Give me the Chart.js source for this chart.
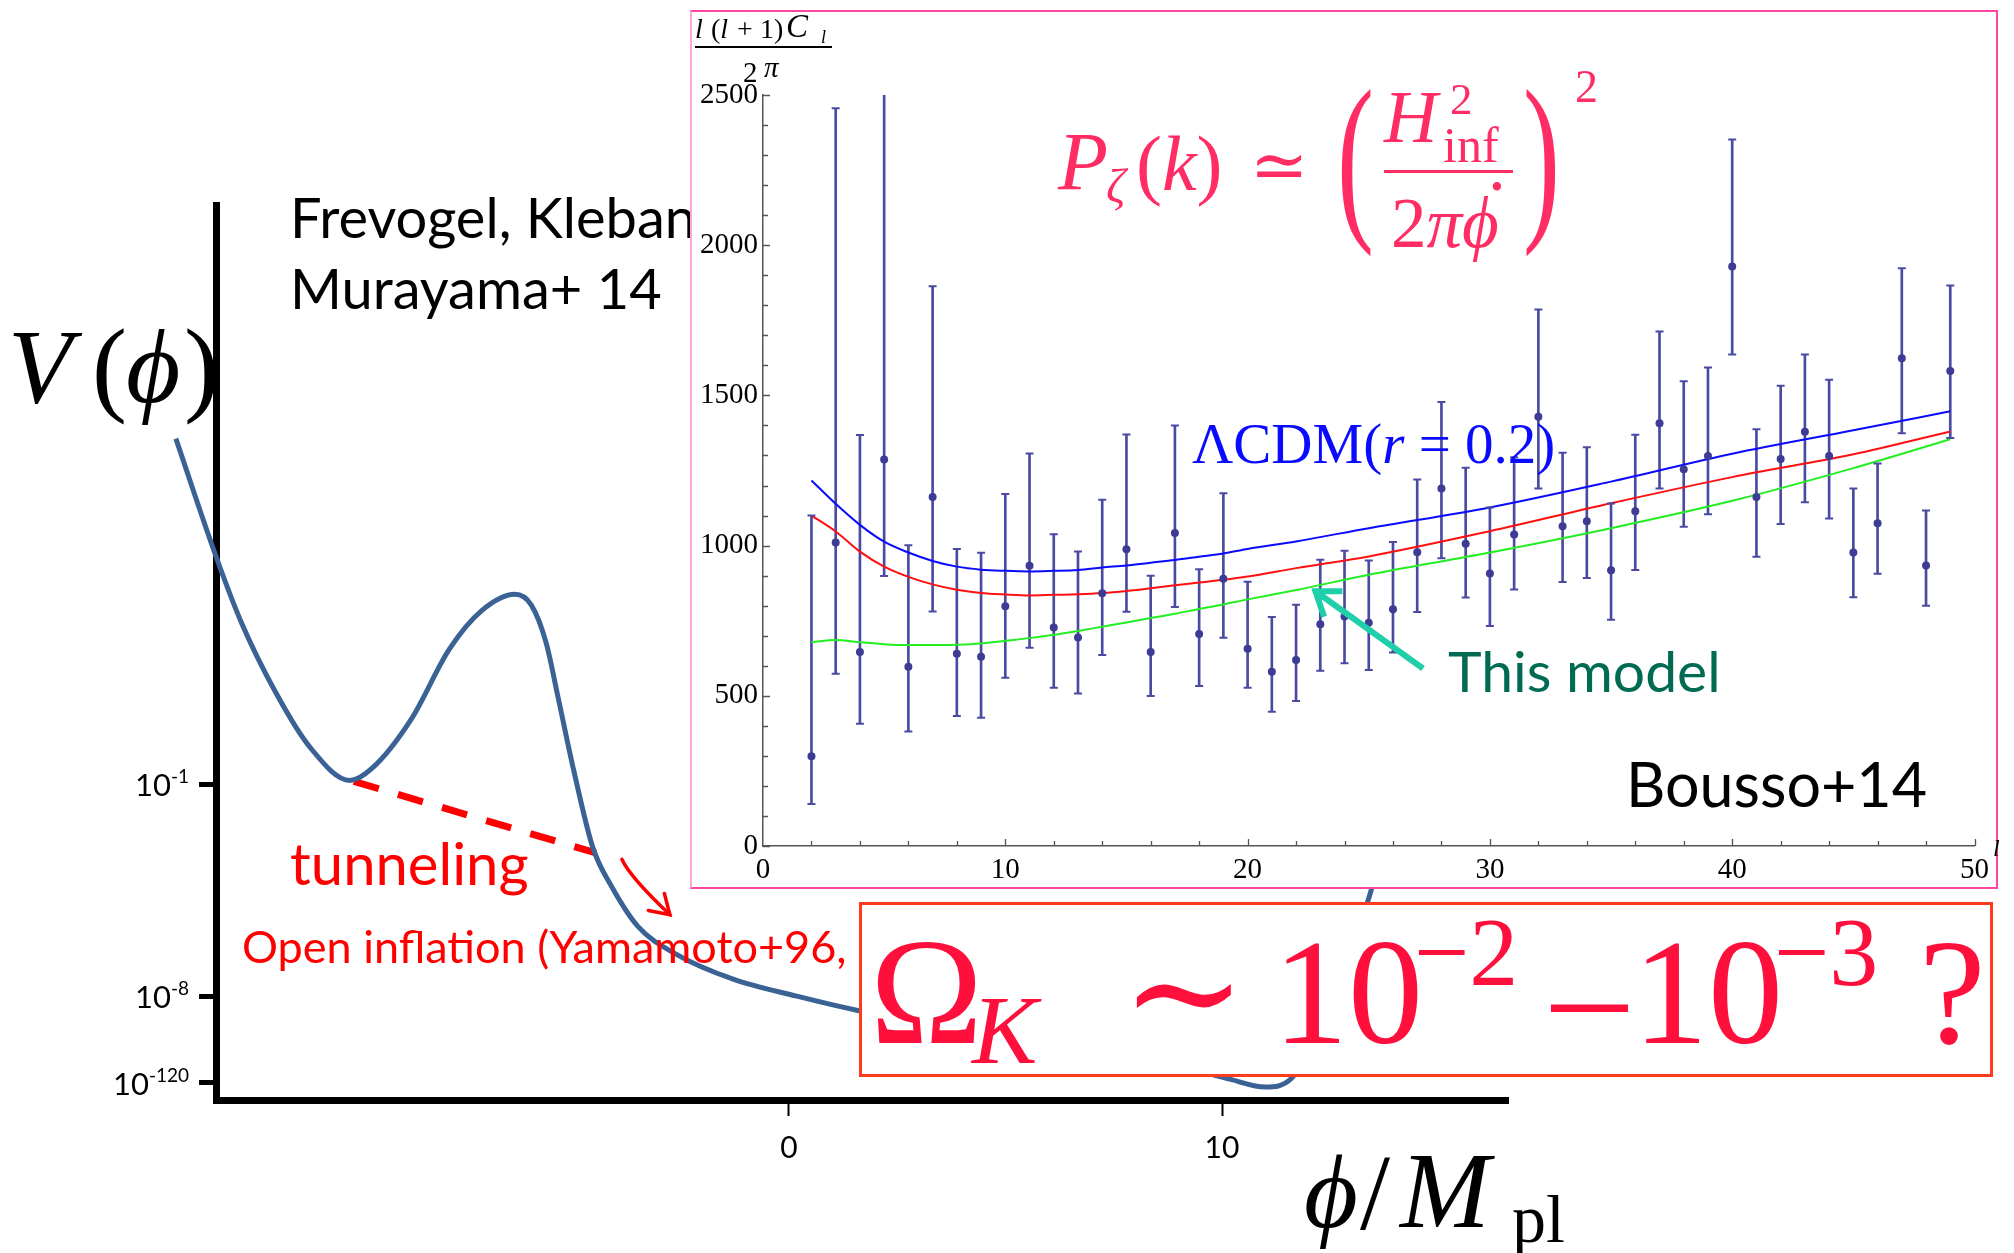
<!DOCTYPE html>
<html>
<head>
<meta charset="utf-8">
<script src="https://cdn.jsdelivr.net/npm/chart.js@4.4.1/dist/chart.umd.min.js"></script>
<style>
  html, body { margin: 0; padding: 0; background: #fff; }
  #page { position: relative; width: 2014px; height: 1253px; overflow: hidden; background: #fff; }
  #potWrap { position: absolute; left: 0; top: 0; width: 2014px; height: 1253px; }
  #insetWrap { position: absolute; left: 690px; top: 10px; width: 1308px; height: 879px; box-sizing: border-box;
               border: 2px solid #ff45a2; border-left-color: #ffa6d4; background: #fff; }
  #omegaBox { position: absolute; left: 859px; top: 902px; width: 1134px; height: 175px; box-sizing: border-box;
              border: 3px solid #ff3b1f; background: #fff; }
  .t { position: absolute; white-space: nowrap; line-height: 1; }
</style>
</head>
<body>
<div id="page">
  <div id="potWrap"><canvas id="potChart"></canvas></div>
  <div id="insetWrap"><canvas id="insetChart"></canvas></div>
  <div id="omegaBox"></div>
</div>
<script>
// ---- big background plot: schematic potential V(phi)
// vertical units are schematic: 0 = axis line, 100 = top of the frame
const phiMin = -13.233, phiMax = 16.605;
const phiVals = [-14.16, -13.23, -12.66, -11.85, -11.06, -10.14, -9.62, -8.73, -7.84, -7.09, -6.33, -5.95, -5.61, -5.32, -4.97,
                 -4.53, -4.09, -3.49, -2.61, -1.29, 0.18, 1.59, 4.0, 7.0, 9.0, 10.2, 11.0, 11.6, 12.4, 13.4, 13.8];
const potVals = [73.9, 60.7, 53.5, 45.5, 39.4, 35.7, 37.1, 42.5, 50.4, 54.7, 56.5, 55.3, 51.1, 44.7, 36.8,
                 28.2, 23.8, 19.4, 16.3, 13.5, 11.6, 10.0, 7.8, 5.5, 3.8, 2.3, 1.45, 2.4, 9.0, 22.7, 30.0];
const tunnelPhi = [-10.05, -4.46];
const tunnelV = [35.6, 27.6];
const arrowPhi = [-3.86, -3.67, -2.75];   // start, control, tip
const arrowV = [26.9, 24.9, 20.7];
const potXTicks = [0, 10];
const potYTicks = [1.9, 11.6, 35.3];
const potYExp = ['-120', '-8', '-1'];

// ---- inset: l(l+1)C_l/2pi
const ellPts = [2, 3, 4, 5, 6, 7, 8, 9, 10, 11, 12, 13, 14, 15, 16, 17, 18, 19, 20, 21, 22, 23, 24, 25,
                26, 27, 28, 29, 30, 31, 32, 33, 34, 35, 36, 37, 38, 39, 40, 41, 42, 43, 44, 45, 46, 47, 48, 49];
const clVals = [299, 1010, 646, 1287, 597, 1162, 640, 630, 798, 933, 727, 694, 841, 988, 646, 1042, 706, 890, 657, 580, 619, 738, 764, 743,
                788, 978, 1190, 1006, 907, 1037, 1429, 1064, 1081, 918, 1114, 1407, 1254, 1298, 1929, 1162, 1288, 1379, 1298, 977, 1074, 1624, 934, 1581];
const clLow = [140, 573, 407, 899, 381, 781, 433, 427, 560, 660, 527, 508, 636, 780, 499, 796, 533, 693, 527, 447, 483, 583, 608, 586,
               644, 779, 958, 827, 732, 854, 1190, 879, 892, 753, 919, 1190, 1063, 1104, 1636, 963, 1072, 1144, 1090, 828, 906, 1374, 800, 1358];
const clHigh = [1100, 2456, 1368, 2700, 1001, 1863, 989, 976, 1172, 1307, 1038, 980, 1153, 1370, 900, 1400, 921, 1174, 880, 762, 803, 953, 983, 950,
                1012, 1220, 1478, 1259, 1127, 1294, 1786, 1309, 1327, 1140, 1369, 1713, 1547, 1593, 2352, 1387, 1532, 1636, 1552, 1190, 1273, 1923, 1117, 1866];
const curveL = [2, 3, 4, 5, 6, 7, 8, 9, 10, 11, 12, 13, 14, 15, 16, 17, 18, 19, 20, 22, 25, 30, 35, 40, 45, 49];
const lcdmVals = [1217, 1139, 1069, 1013, 977, 949, 930, 920, 916, 914, 916, 919, 927, 934, 943, 952, 963, 974, 989, 1014, 1058, 1127, 1213, 1306, 1384, 1447];
const redVals = [1100, 1047, 980, 930, 896, 871, 853, 842, 837, 834, 836, 838, 842, 849, 858, 868, 877, 886, 897, 925, 964, 1048, 1141, 1228, 1304, 1380];
const modelVals = [679, 686, 678, 672, 669, 669, 670, 674, 683, 692, 703, 716, 730, 744, 759, 773, 789, 804, 821, 852, 903, 977, 1058, 1149, 1258, 1354];
const tealArrowL = [27.24, 22.8];
const tealArrowC = [591, 848];

const serif = '"Liberation Serif", "DejaVu Serif", serif';
const sans = 'Lato, "Open Sans", sans-serif';
const pointCol = '#3c3c94';
const barCol = '#4a4aa2';

function pts(xs, ys) { return xs.map((x, i) => ({ x: x, y: ys[i] })); }

function arrowHead(ctx, tipX, tipY, fromX, fromY, len, spread) {
    const ang = Math.atan2(fromY - tipY, fromX - tipX);
    ctx.beginPath();
    ctx.moveTo(tipX + len * Math.cos(ang + spread), tipY + len * Math.sin(ang + spread));
    ctx.lineTo(tipX, tipY);
    ctx.lineTo(tipX + len * Math.cos(ang - spread), tipY + len * Math.sin(ang - spread));
    ctx.stroke();
}

// curved red arrow and the 10^n tick labels of the potential plot
const potDeco = {
    id: 'potDeco',
    afterDraw(chart) {
        const { ctx, scales: { x, y } } = chart;
        const px = arrowPhi.map(v => x.getPixelForValue(v));
        const py = arrowV.map(v => y.getPixelForValue(v));
        ctx.save();
        ctx.strokeStyle = '#ff0000';
        ctx.lineWidth = 3.5;
        ctx.lineCap = 'round';
        ctx.beginPath();
        ctx.moveTo(px[0], py[0]);
        ctx.quadraticCurveTo(px[1], py[1], px[2], py[2]);
        ctx.stroke();
        arrowHead(ctx, px[2], py[2], px[1], py[1], 22, 0.56);

        ctx.fillStyle = '#000';
        ctx.textBaseline = 'alphabetic';
        potYTicks.forEach((v, i) => {
            const ty = y.getPixelForValue(v);
            const right = x.left - 27;
            ctx.font = '19px ' + sans;
            ctx.textAlign = 'right';
            ctx.fillText(potYExp[i], right, ty - 1);
            const ew = ctx.measureText(potYExp[i]).width;
            ctx.font = '31px ' + sans;
            ctx.fillText('10', right - ew, ty + 12);
        });
        ctx.restore();
    }
};

new Chart(document.getElementById('potChart'), {
    type: 'scatter',
    data: {
        datasets: [{
            type: 'line',
            label: 'V(phi)',
            data: pts(phiVals, potVals),
            borderColor: '#3a6294',
            borderWidth: 5,
            pointRadius: 0,
            cubicInterpolationMode: 'monotone',
            clip: false
        }, {
            type: 'line',
            label: 'tunneling',
            data: pts(tunnelPhi, tunnelV),
            borderColor: '#ff0000',
            borderWidth: 7,
            borderDash: [26, 20],
            borderCapStyle: 'butt',
            pointRadius: 0
        }]
    },
    options: {
        responsive: true,
        maintainAspectRatio: false,
        animation: false,
        layout: { padding: { top: 205, right: 506, left: 0, bottom: 0 } },
        plugins: { legend: { display: false }, tooltip: { enabled: false } },
        scales: {
            x: {
                type: 'linear',
                min: phiMin,
                max: phiMax,
                afterBuildTicks: s => { s.ticks = potXTicks.map(v => ({ value: v })); },
                ticks: { color: '#000', autoSkip: false, maxRotation: 0, padding: 14, font: { family: sans, size: 30 } },
                grid: { drawOnChartArea: false, drawTicks: true, tickLength: 16, tickWidth: 2, color: '#000' },
                border: { display: true, color: '#000', width: 7 },
                afterFit: s => { s.height = 153; }
            },
            y: {
                type: 'linear',
                min: 0,
                max: 100,
                afterBuildTicks: s => { s.ticks = potYTicks.map(v => ({ value: v })); },
                ticks: { autoSkip: false, callback: () => '' },
                grid: { drawOnChartArea: false, drawTicks: true, tickLength: 17, tickWidth: 5, color: '#000' },
                border: { display: true, color: '#000', width: 7 },
                afterFit: s => { s.width = 216; }
            }
        }
    },
    plugins: [potDeco]
});

// inward ticks and the teal arrow of the inset
const insetDeco = {
    id: 'insetDeco',
    afterDraw(chart) {
        const { ctx, scales: { x, y } } = chart;
        ctx.save();
        ctx.strokeStyle = '#555';
        ctx.lineWidth = 1.3;
        ctx.beginPath();
        for (let v = 0; v <= 2500; v += 100) {
            const py = Math.round(y.getPixelForValue(v)) + 0.5;
            ctx.moveTo(x.left, py);
            ctx.lineTo(x.left + (v % 500 === 0 ? 7 : 5), py);
        }
        for (let l = 2; l <= 50; l += 2) {
            const px = Math.round(x.getPixelForValue(l)) + 0.5;
            ctx.moveTo(px, y.bottom);
            ctx.lineTo(px, y.bottom - (l % 10 === 0 ? 7 : 5));
        }
        ctx.stroke();

        const ax = tealArrowL.map(v => x.getPixelForValue(v));
        const ay = tealArrowC.map(v => y.getPixelForValue(v));
        ctx.strokeStyle = '#1fcfaa';
        ctx.lineWidth = 6;
        ctx.lineCap = 'butt';
        ctx.beginPath();
        ctx.moveTo(ax[0], ay[0]);
        ctx.lineTo(ax[1], ay[1]);
        ctx.stroke();
        arrowHead(ctx, ax[1], ay[1], ax[0], ay[0], 27, 0.62);
        ctx.restore();
    }
};

const tickFont = { family: serif, size: 29 };

new Chart(document.getElementById('insetChart'), {
    type: 'scatter',
    data: {
        datasets: [{
            label: 'points',
            data: pts(ellPts, clVals),
            backgroundColor: pointCol,
            borderWidth: 0,
            pointRadius: 4,
            order: 0
        }, {
            label: 'upper caps',
            data: pts(ellPts, clHigh),
            pointStyle: 'line',
            pointRadius: 4,
            borderColor: barCol,
            borderWidth: 2,
            order: 1
        }, {
            label: 'lower caps',
            data: pts(ellPts, clLow),
            pointStyle: 'line',
            pointRadius: 4,
            borderColor: barCol,
            borderWidth: 2,
            order: 1
        }, {
            type: 'bar',
            label: 'errors',
            data: ellPts.map((l, i) => ({ x: l, y: [clLow[i], clHigh[i]] })),
            backgroundColor: barCol,
            barThickness: 2,
            order: 3
        }, {
            type: 'line',
            label: 'LCDM r=0.2',
            data: pts(curveL, lcdmVals),
            borderColor: '#0a0aff',
            borderWidth: 2,
            pointRadius: 0,
            cubicInterpolationMode: 'monotone',
            order: 2
        }, {
            type: 'line',
            label: 'red',
            data: pts(curveL, redVals),
            borderColor: '#ff1010',
            borderWidth: 2,
            pointRadius: 0,
            cubicInterpolationMode: 'monotone',
            order: 2
        }, {
            type: 'line',
            label: 'This model',
            data: pts(curveL, modelVals),
            borderColor: '#22ee22',
            borderWidth: 2,
            pointRadius: 0,
            cubicInterpolationMode: 'monotone',
            order: 2
        }]
    },
    options: {
        responsive: true,
        maintainAspectRatio: false,
        animation: false,
        layout: { padding: { top: 83, right: 18, left: 0, bottom: 0 } },
        plugins: { legend: { display: false }, tooltip: { enabled: false } },
        scales: {
            x: {
                type: 'linear',
                min: 0,
                max: 50,
                offset: false,
                grid: { display: false, drawTicks: false },
                border: { display: true, color: '#555', width: 1.5 },
                ticks: { stepSize: 10, color: '#000', padding: 7, autoSkip: false, maxRotation: 0, font: tickFont,
                         callback: v => String(v) },
                afterFit: s => { s.height = 41; }
            },
            y: {
                type: 'linear',
                min: 0,
                max: 2500,
                grid: { display: false, drawTicks: false },
                border: { display: true, color: '#555', width: 1.5 },
                ticks: { stepSize: 500, color: '#000', padding: 5, autoSkip: false, font: tickFont,
                         callback: v => String(v) },
                afterFit: s => { s.width = 71; }
            }
        }
    },
    plugins: [insetDeco]
});

// ---- text, placed by baseline
const page = document.getElementById('page');
const insetWrap = document.getElementById('insetWrap');
const ASC = { serif: 0.8375, sans: 0.887 };

function put(html, left, base, size, kind, style, before) {
    const el = document.createElement('div');
    el.className = 't';
    el.innerHTML = html;
    el.style.left = left + 'px';
    el.style.top = (base - ASC[kind] * size) + 'px';
    el.style.fontSize = size + 'px';
    el.style.fontFamily = kind === 'serif' ? serif : sans;
    if (style) el.style.cssText += ';' + style;
    if (before) page.insertBefore(el, before); else page.appendChild(el);
    return el;
}

// under the inset
put('Frevogel, Kleban', 290, 239, 56, 'sans', 'color:#000', insetWrap);
put('Murayama+ 14', 290, 310, 56, 'sans', 'color:#000', insetWrap);
put('<i>V</i>', 8, 402, 105, 'serif', 'color:#000', insetWrap);
put('(', 92, 402, 105, 'serif', 'color:#000', insetWrap);
put('<i>ϕ</i>', 126, 402, 105, 'serif', 'color:#000', insetWrap);
put(')', 184, 402, 105, 'serif', 'color:#000', insetWrap);
put('tunneling', 290, 885, 58, 'sans', 'color:#ff0000', insetWrap);
put('Open inflation (Yamamoto+96,', 242, 964, 45, 'sans', 'color:#ff0000', insetWrap);
put('<i>ϕ</i>', 1304, 1227, 104, 'serif', 'color:#000', insetWrap);
put('/', 1360, 1229, 108, 'serif', 'color:#000', insetWrap);
put('<i>M</i>', 1400, 1227, 108, 'serif', 'color:#000', insetWrap);
put('pl', 1512, 1242, 68, 'serif', 'color:#000', insetWrap);

// inset axis labels
const lab = 'color:#000';
put('<i>l</i>', 695, 38, 28, 'serif', lab);
put('(<i>l</i>', 711, 38, 28, 'serif', lab);
put('+', 737, 38, 28, 'serif', lab);
put('1)', 760, 38, 28, 'serif', lab);
put('<i>C</i>', 786, 38, 33, 'serif', lab);
put('<i>l</i>', 821, 43, 18, 'serif', lab);
const frac = document.createElement('div');
frac.style.cssText = 'position:absolute;left:695px;top:46px;width:137px;height:2px;background:#000';
page.appendChild(frac);
put('2', 743, 82, 29, 'serif', lab);
put('<i>π</i>', 764, 77, 29, 'serif', lab);
put('<i>l</i>', 1993, 856, 24, 'serif', lab);

// formula in the inset
const pink = 'color:#ff2d64';
put('<i>P</i>', 1058, 190, 82, 'serif', pink);
put('<i>ζ</i>', 1106, 202, 48, 'serif', pink);
put('(<i>k</i>)', 1136, 190, 78, 'serif', pink);
put('≃', 1250, 190, 70, 'serif', pink);
put('(', 1337, 217, 185, 'serif', pink + ';transform:scaleX(0.6);transform-origin:0 0');
put('<i>H</i>', 1384, 142, 74, 'serif', pink);
put('2', 1450, 115, 45, 'serif', pink);
put('inf', 1443, 162, 50, 'serif', pink);
const fbar = document.createElement('div');
fbar.style.cssText = 'position:absolute;left:1384px;top:170px;width:129px;height:3px;background:#ff2d64';
page.appendChild(fbar);
put('2<i>πϕ</i>', 1391, 247, 71, 'serif', pink);
put('.', 1488, 190, 71, 'serif', pink);
put(')', 1523, 217, 185, 'serif', pink + ';transform:scaleX(0.6);transform-origin:0 0');
put('2', 1575, 103, 46, 'serif', pink);

put('ΛCDM(<i>r</i> = 0.2)', 1192, 463, 57, 'serif', 'color:#0a0aff');
put('This model', 1448, 693, 57, 'sans', 'color:#006b52');
put('Bousso+14', 1626, 807, 61, 'sans', 'color:#000');

// Omega_K box
const red2 = 'color:#ff0f3c';
put('Ω', 870, 1043, 152, 'serif', red2);
put('<i>K</i>', 972, 1063, 98, 'serif', red2);
put('∼', 1121, 1043, 150, 'serif', red2);
put('10', 1273, 1043, 150, 'serif', red2);
put('−2', 1414, 985, 98, 'serif', red2);
put('–', 1552, 1043, 150, 'serif', red2);
put('10', 1633, 1043, 150, 'serif', red2);
put('−3', 1774, 985, 98, 'serif', red2);
put('?', 1919, 1043, 150, 'serif', red2);
</script>
</body>
</html>
